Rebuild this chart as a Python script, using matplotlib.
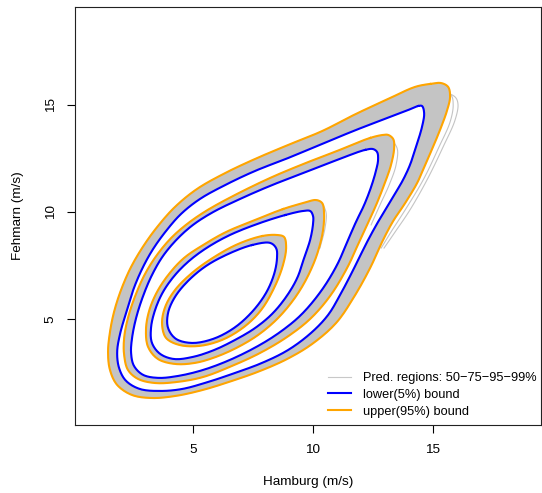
import numpy as np
import matplotlib
matplotlib.use("Agg")
import matplotlib.pyplot as plt
from matplotlib.path import Path
from matplotlib.patches import PathPatch

plt.rcParams['font.family'] = ['Liberation Sans', 'DejaVu Sans']

# ---------------- data ----------------
levels = ["50", "75", "95", "99"]

# lower (5%) bound prediction-region contours
lower50_x = [7.47, 8.22, 8.47, 8.51, 8.39, 8.05, 7.47, 6.72, 5.85, 4.97, 4.30, 3.97, 3.97, 4.26, 4.80, 5.55, 6.47]
lower50_y = [8.45, 8.55, 8.31, 7.85, 7.10, 6.21, 5.33, 4.58, 4.07, 3.88, 4.07, 4.58, 5.28, 6.03, 6.77, 7.47, 8.03]

lower75_x = [8.85, 9.60, 9.89, 10.01, 10.01, 9.89, 9.64, 9.35, 8.89, 8.30, 7.60, 6.76, 5.89, 5.01, 4.22, 3.64, 3.30, 3.26, 3.43, 3.76, 4.26, 4.89, 5.64, 6.55, 7.68]
lower75_y = [9.85, 10.04, 10.04, 9.81, 9.43, 8.69, 7.85, 6.91, 6.03, 5.23, 4.58, 4.02, 3.55, 3.23, 3.13, 3.37, 3.88, 4.58, 5.42, 6.26, 7.05, 7.75, 8.36, 8.92, 9.43]

lower95_x = [12.18, 12.51, 12.68, 12.72, 12.64, 12.43, 12.14, 11.80, 11.47, 11.01, 10.35, 9.51, 8.64, 7.72, 6.55, 5.43, 4.39, 3.55, 2.93, 2.55, 2.43, 2.47, 2.64, 2.93, 3.30, 3.76, 4.35, 5.01, 5.85, 6.97, 8.22, 9.60, 11.01]
lower95_y = [12.89, 12.93, 12.79, 12.42, 11.95, 11.16, 10.32, 9.53, 8.69, 7.52, 6.31, 5.19, 4.39, 3.74, 3.09, 2.62, 2.34, 2.25, 2.39, 2.81, 3.41, 4.11, 5.05, 6.07, 7.05, 7.94, 8.73, 9.39, 9.99, 10.60, 11.21, 11.81, 12.42]

lower99_x = [14.39, 14.55, 14.64, 14.55, 14.30, 14.05, 13.76, 13.47, 13.14, 12.72, 12.35, 12.01, 11.64, 11.18, 10.64, 9.93, 8.97, 7.89, 6.76, 5.64, 4.55, 3.64, 2.80, 2.22, 1.93, 1.85, 1.97, 2.26, 2.55, 2.93, 3.35, 3.89, 4.51, 5.30, 6.35, 7.60, 8.97, 10.39, 11.80, 13.22, 13.97]
lower99_y = [14.94, 14.94, 14.61, 13.96, 13.03, 12.19, 11.49, 10.93, 10.32, 9.53, 8.78, 8.03, 7.19, 6.21, 5.19, 4.35, 3.55, 2.95, 2.48, 2.06, 1.73, 1.64, 1.73, 2.11, 2.71, 3.46, 4.30, 5.42, 6.45, 7.43, 8.27, 9.11, 9.90, 10.60, 11.25, 11.91, 12.51, 13.17, 13.82, 14.43, 14.75]

# upper (95%) bound prediction-region contours
upper50_x = [7.89, 8.51, 8.80, 8.89, 8.76, 8.39, 7.85, 7.14, 6.22, 5.26, 4.43, 3.89, 3.72, 3.85, 4.26, 4.97, 5.89, 6.89]
upper50_y = [8.87, 8.92, 8.83, 8.36, 7.52, 6.45, 5.42, 4.63, 4.02, 3.74, 3.79, 4.11, 4.77, 5.56, 6.35, 7.15, 7.89, 8.50]

upper75_x = [8.76, 9.60, 10.14, 10.39, 10.47, 10.43, 10.26, 10.01, 9.60, 9.10, 8.47, 7.72, 6.89, 5.97, 5.10, 4.26, 3.55, 3.14, 3.05, 3.18, 3.51, 4.01, 4.64, 5.43, 6.39, 7.60]
upper75_y = [10.13, 10.41, 10.55, 10.41, 9.95, 9.15, 8.31, 7.52, 6.59, 5.75, 4.95, 4.25, 3.69, 3.23, 2.95, 2.90, 3.13, 3.69, 4.49, 5.37, 6.26, 7.10, 7.85, 8.45, 9.06, 9.62]

upper95_x = [12.39, 12.93, 13.14, 13.35, 13.39, 13.26, 12.97, 12.64, 12.30, 11.97, 11.43, 10.72, 9.89, 8.93, 7.80, 6.64, 5.43, 4.35, 3.43, 2.72, 2.30, 2.14, 2.14, 2.30, 2.60, 3.01, 3.51, 4.10, 4.76, 5.55, 6.68, 8.22, 9.60, 11.01]
upper95_y = [13.45, 13.59, 13.59, 13.40, 12.98, 12.19, 11.25, 10.32, 9.48, 8.69, 7.38, 6.07, 5.00, 4.16, 3.41, 2.81, 2.29, 2.06, 2.01, 2.20, 2.62, 3.32, 4.11, 5.05, 6.07, 7.10, 7.99, 8.78, 9.43, 10.04, 10.74, 11.58, 12.23, 12.84]

upper99_x = [14.89, 15.35, 15.64, 15.72, 15.60, 15.35, 15.01, 14.68, 14.35, 13.85, 13.35, 12.93, 12.39, 11.72, 10.97, 9.97, 8.93, 7.80, 6.64, 5.43, 4.30, 3.30, 2.47, 1.85, 1.55, 1.47, 1.55, 1.72, 2.01, 2.43, 2.97, 3.55, 4.26, 5.18, 6.35, 7.60, 8.97, 10.39, 11.80, 13.22, 14.26]
upper99_y = [15.97, 16.01, 15.83, 15.36, 14.75, 13.96, 13.03, 12.19, 11.35, 10.41, 9.57, 8.69, 7.38, 6.03, 4.81, 3.83, 3.13, 2.57, 2.11, 1.69, 1.41, 1.31, 1.45, 1.92, 2.62, 3.46, 4.39, 5.33, 6.35, 7.43, 8.45, 9.34, 10.23, 11.07, 11.81, 12.47, 13.12, 13.77, 14.57, 15.31, 15.83]

# individual grey prediction regions that stick out beyond the upper bound near the tips
grey_tip99a_x = [12.80, 14.47, 15.51, 15.93, 16.05, 15.93, 15.43, 14.76, 14.05, 13.43, 12.97]
grey_tip99a_y = [14.66, 15.36, 15.55, 15.36, 15.03, 14.29, 13.03, 11.49, 10.09, 9.06, 8.31]
grey_tip99b_x = [12.80, 14.47, 15.30, 15.76, 15.85, 15.72, 15.26, 14.60, 13.85, 13.26, 12.85]
grey_tip99b_y = [14.75, 15.45, 15.69, 15.45, 14.99, 14.19, 13.03, 11.49, 10.09, 9.06, 8.31]
grey_tip95_x = [12.47, 13.22, 13.51, 13.47, 13.18, 12.80, 12.43]
grey_tip95_y = [13.31, 13.35, 12.98, 12.19, 11.25, 10.32, 9.39]
grey_tip75_x = [9.89, 10.35, 10.55, 10.51, 10.30]
grey_tip75_y = [10.32, 10.37, 9.99, 9.25, 8.31]

lower = {"50": (lower50_x, lower50_y), "75": (lower75_x, lower75_y),
         "95": (lower95_x, lower95_y), "99": (lower99_x, lower99_y)}
upper = {"50": (upper50_x, upper50_y), "75": (upper75_x, upper75_y),
         "95": (upper95_x, upper95_y), "99": (upper99_x, upper99_y)}
grey_tips = [(grey_tip99a_x, grey_tip99a_y), (grey_tip99b_x, grey_tip99b_y),
             (grey_tip95_x, grey_tip95_y), (grey_tip75_x, grey_tip75_y)]

legend_labels = ["Pred. regions: 50\u221275\u221295\u221299%", "lower(5%) bound", "upper(95%) bound"]
x_ticks = [5, 10, 15]
y_ticks = [5, 10, 15]


# ---------------- helpers: smooth (centripetal Catmull-Rom) curve through read points ----------------
def _seg(P0, P1, P2, P3, n):
    def tj(ti, a, b):
        return ti + max(np.hypot(*(b - a)), 1e-9) ** 0.5
    t0 = 0.0
    t1 = tj(t0, P0, P1)
    t2 = tj(t1, P1, P2)
    t3 = tj(t2, P2, P3)
    t = np.linspace(t1, t2, n, endpoint=False)[:, None]
    A1 = (t1 - t) / (t1 - t0) * P0 + (t - t0) / (t1 - t0) * P1
    A2 = (t2 - t) / (t2 - t1) * P1 + (t - t1) / (t2 - t1) * P2
    A3 = (t3 - t) / (t3 - t2) * P2 + (t - t2) / (t3 - t2) * P3
    B1 = (t2 - t) / (t2 - t0) * A1 + (t - t0) / (t2 - t0) * A2
    B2 = (t3 - t) / (t3 - t1) * A2 + (t - t1) / (t3 - t1) * A3
    return (t2 - t) / (t2 - t1) * B1 + (t - t1) / (t2 - t1) * B2


def smooth_closed(x, y, n=10):
    pts = np.column_stack([x, y]).astype(float)
    P = np.vstack([pts[-1], pts, pts[0], pts[1]])
    segs = [_seg(P[i - 1], P[i], P[i + 1], P[i + 2], n) for i in range(1, len(P) - 2)]
    out = np.vstack(segs + [pts[:1]])
    return out[:, 0], out[:, 1]


def smooth_open(x, y, n=10):
    pts = np.column_stack([x, y]).astype(float)
    P = np.vstack([2 * pts[0] - pts[1], pts, 2 * pts[-1] - pts[-2]])
    segs = [_seg(P[i - 1], P[i], P[i + 1], P[i + 2], n) for i in range(1, len(P) - 2)]
    out = np.vstack(segs + [pts[-1:]])
    return out[:, 0], out[:, 1]


# ---------------- figure ----------------
fs = 9.7
fig = plt.figure(figsize=(5.42, 4.93), dpi=100)
ax = fig.add_axes([0.1378, 0.1379, 0.8604, 0.8479])

grey = "#c4c4c4"
# band covered by the grey prediction regions (between the lower and upper bounds)
for lv in levels:
    ux, uy = smooth_closed(*upper[lv])
    lx, ly = smooth_closed(*lower[lv])
    verts = np.concatenate([np.column_stack([ux, uy]), np.column_stack([lx, ly])[::-1]])
    codes = ([Path.MOVETO] + [Path.LINETO] * (len(ux) - 2) + [Path.CLOSEPOLY]
             + [Path.MOVETO] + [Path.LINETO] * (len(lx) - 2) + [Path.CLOSEPOLY])
    ax.add_patch(PathPatch(Path(verts, codes), facecolor=grey, edgecolor=grey, lw=0.6, zorder=1))

for gx, gy in grey_tips:
    sx, sy = smooth_open(gx, gy)
    ax.plot(sx, sy, color=grey, lw=0.8, zorder=1.5)

for lv in levels:
    ux, uy = smooth_closed(*upper[lv])
    ax.plot(ux, uy, color="orange", lw=1.5, zorder=2.5, solid_joinstyle="round")
    lx, ly = smooth_closed(*lower[lv])
    ax.plot(lx, ly, color="blue", lw=1.5, zorder=3, solid_joinstyle="round")

ax.set_xlim(0.08, 19.51)
ax.set_ylim(0.05, 19.56)
ax.set_xticks(x_ticks)
ax.set_yticks(y_ticks)
ax.set_xticklabels([str(v) for v in x_ticks])
ax.set_yticklabels([str(v) for v in y_ticks], rotation=90, va="center")
ax.tick_params(axis="both", direction="out", length=5.5, width=0.8, labelsize=fs, colors="black")
ax.tick_params(axis="x", pad=8.5)
ax.tick_params(axis="y", pad=7.5)
for s in ax.spines.values():
    s.set_linewidth(0.8)
    s.set_color("#222222")

fig.text(308 / 542, 1 - 482 / 493, "Hamburg (m/s)", ha="center", va="center", fontsize=fs)
fig.text(18.5 / 542, 1 - 216 / 493, "Fehmarn (m/s)", ha="center", va="center", rotation=90, fontsize=fs)

handles = [plt.Line2D([], [], color="#c8c8c8", lw=0.8),
           plt.Line2D([], [], color="blue", lw=1.5),
           plt.Line2D([], [], color="orange", lw=1.5)]
leg_fs = 9.2
leg = ax.legend(handles, legend_labels, loc="upper left", bbox_to_anchor=(0.543, 0.126),
                frameon=False, fontsize=leg_fs, handlelength=1.8, handletextpad=0.98,
                labelspacing=0.36, borderpad=0, borderaxespad=0)

fig.savefig("out.png", dpi=100)
